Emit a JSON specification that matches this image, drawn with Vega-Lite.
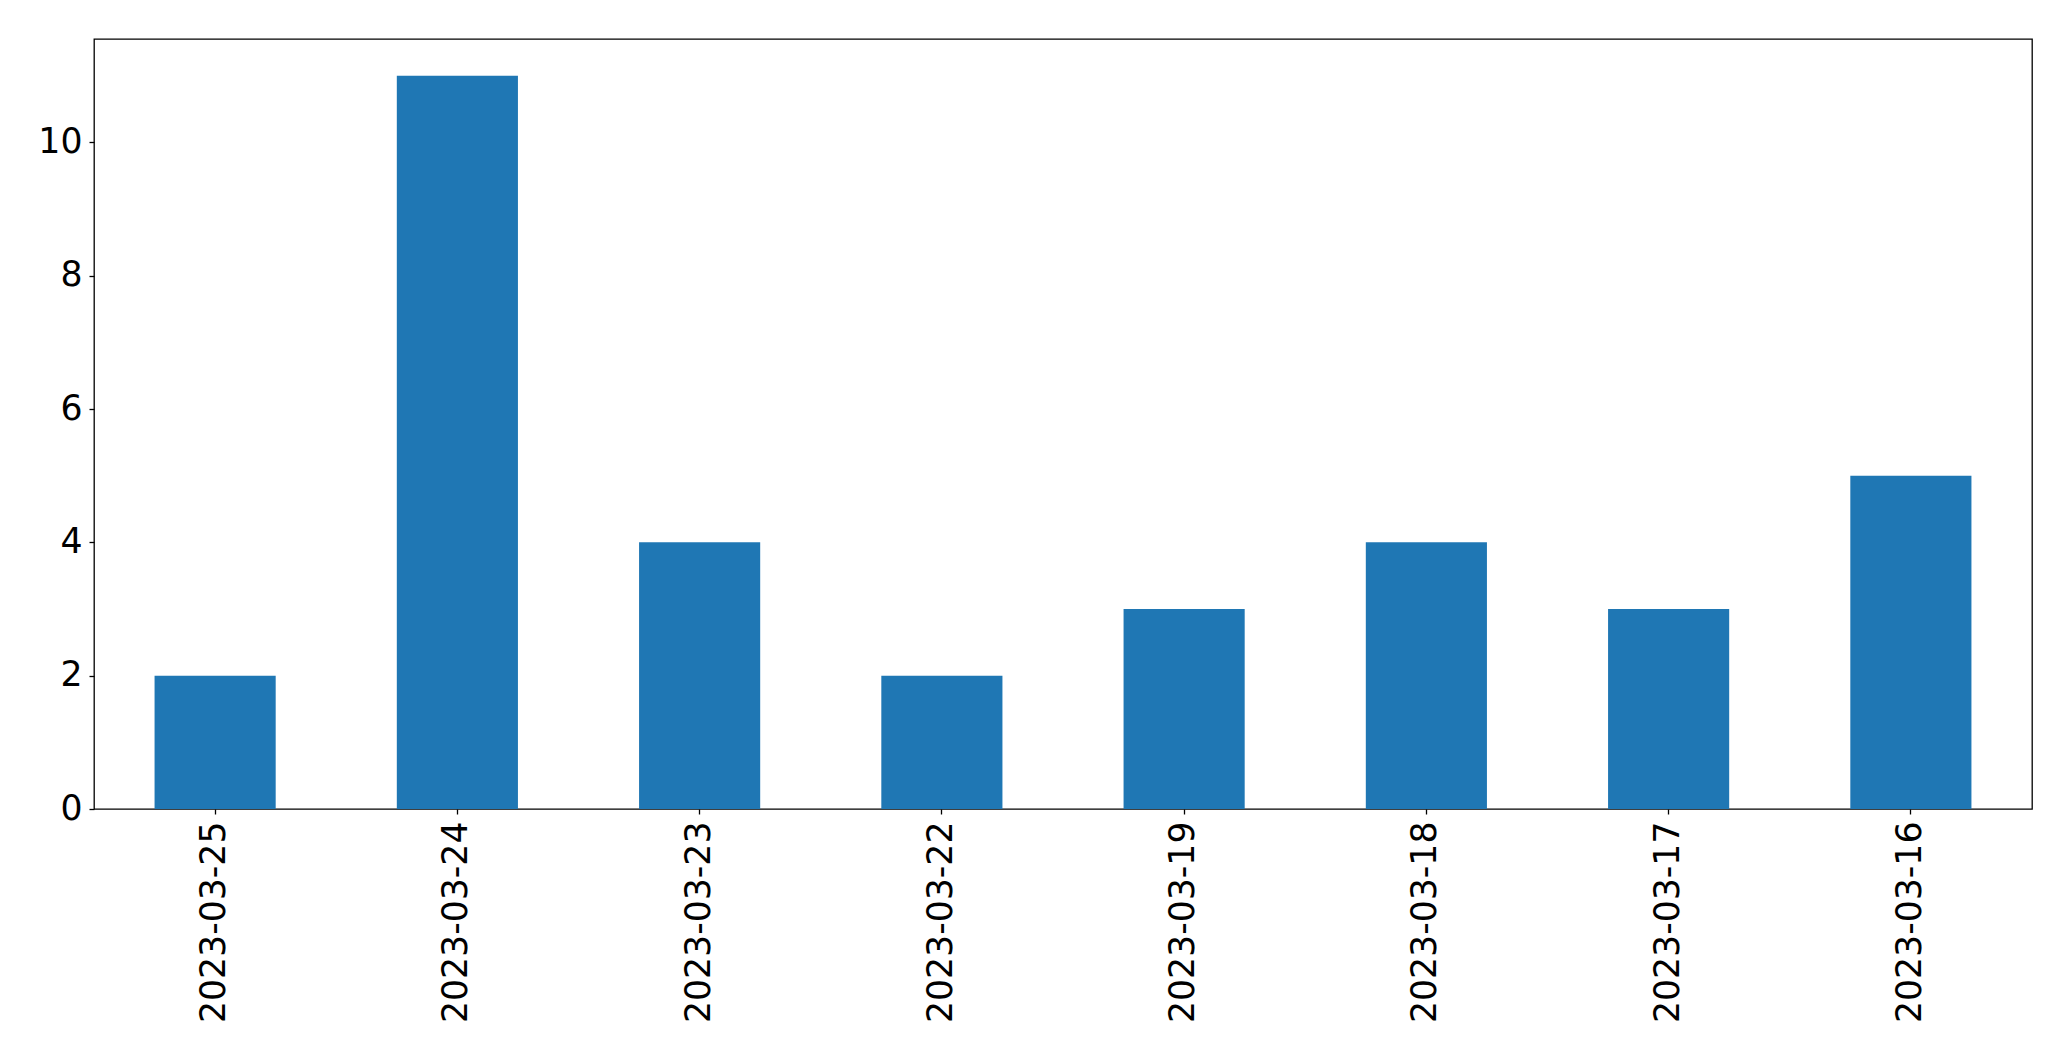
{
  "$schema": "https://vega.github.io/schema/vega-lite/v6.json",
  "autosize": {"type": "none"},
  "padding": {"left": 94, "top": 39, "right": 39, "bottom": 252},
  "width": 1938,
  "height": 770,
  "background": "white",
  "config": {
    "view": {"stroke": "black", "strokeWidth": 1.3},
    "font": "DejaVu Sans"
  },
  "data": {
    "values": [
      {"date": "2023-03-25", "count": 2},
      {"date": "2023-03-24", "count": 11},
      {"date": "2023-03-23", "count": 4},
      {"date": "2023-03-22", "count": 2},
      {"date": "2023-03-19", "count": 3},
      {"date": "2023-03-18", "count": 4},
      {"date": "2023-03-17", "count": 3},
      {"date": "2023-03-16", "count": 5}
    ]
  },
  "mark": {"type": "bar", "color": "#1f77b4"},
  "encoding": {
    "x": {
      "field": "date",
      "type": "nominal",
      "sort": null,
      "scale": {"paddingInner": 0.5, "paddingOuter": 0.25},
      "axis": {
        "title": null,
        "labelAngle": -90,
        "labelFontSize": 34.7,
        "labelColor": "black",
        "labelPadding": 7,
        "labelLimit": 400,
        "tickSize": 5,
        "tickColor": "black",
        "tickWidth": 1.3,
        "domain": false,
        "grid": false
      }
    },
    "y": {
      "field": "count",
      "type": "quantitative",
      "scale": {"domain": [0, 11.55], "nice": false},
      "axis": {
        "title": null,
        "values": [0, 2, 4, 6, 8, 10],
        "labelFontSize": 34.7,
        "labelColor": "black",
        "labelPadding": 7,
        "tickSize": 5,
        "tickColor": "black",
        "tickWidth": 1.3,
        "domain": false,
        "grid": false
      }
    }
  }
}
